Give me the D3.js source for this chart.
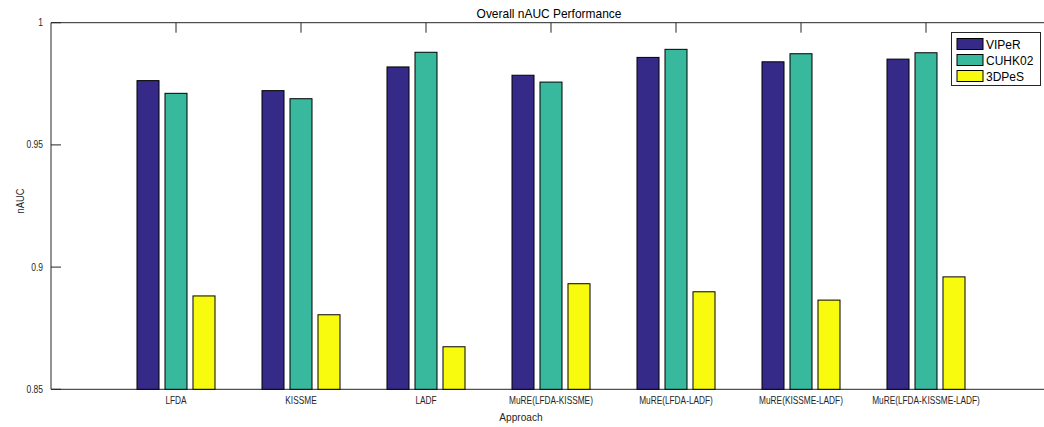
<!DOCTYPE html>
<html>
<head>
<meta charset="utf-8">
<script src="https://cdn.jsdelivr.net/npm/d3@7"></script>
<style>
  html, body { margin: 0; padding: 0; background: #fff; }
  svg { display: block; font-family: "Liberation Sans", Arial, Helvetica, sans-serif; }
</style>
</head>
<body>
<svg id="chart" width="1044" height="427"></svg>
<script>
// Approaches compared on the x axis
const approaches = [
  "LFDA", "KISSME", "LADF", "MuRE(LFDA-KISSME)",
  "MuRE(LFDA-LADF)", "MuRE(KISSME-LADF)", "MuRE(LFDA-KISSME-LADF)"
];
// Dataset series
const seriesNames = ["VIPeR", "CUHK02", "3DPeS"];
const viper  = [0.9763, 0.9722, 0.9819, 0.9785, 0.9858, 0.9840, 0.9851];
const cuhk02 = [0.9711, 0.9689, 0.9879, 0.9757, 0.9891, 0.9873, 0.9877];
const dpes   = [0.8882, 0.8805, 0.8674, 0.8932, 0.8899, 0.8865, 0.8960];
const seriesValues = [viper, cuhk02, dpes];
const colors = ["#352a87", "#38b99e", "#f9fb0e"];
// Y axis ticks
const yTicks = [0.85, 0.9, 0.95, 1];

const svg = d3.select("#chart");
const axisColor = "#262626";

const plotLeft = 51, plotRight = 1051, plotTop = 22.7, plotBottom = 389.3;

// Category positions 1..7 on a [0, 8] axis, like a MATLAB bar chart
const x = d3.scaleLinear().domain([0, approaches.length + 1]).range([plotLeft, plotRight]);
const y = d3.scaleLinear().domain([0.85, 1]).range([plotBottom, plotTop]);
const inner = d3.scaleBand().domain(seriesNames).range([-39, 39]).paddingInner(0.214).paddingOuter(0);

// Axis box lines
svg.append("line").attr("x1", plotLeft).attr("x2", plotRight).attr("y1", plotBottom).attr("y2", plotBottom)
  .attr("stroke", axisColor).attr("stroke-width", 1);
svg.append("line").attr("x1", plotLeft).attr("x2", plotRight).attr("y1", plotTop).attr("y2", plotTop)
  .attr("stroke", axisColor).attr("stroke-width", 1);
svg.append("line").attr("x1", plotLeft).attr("x2", plotLeft).attr("y1", plotTop).attr("y2", plotBottom)
  .attr("stroke", axisColor).attr("stroke-width", 1);

// Inward ticks on top and bottom at category centers
approaches.forEach((a, i) => {
  const cx = x(i + 1);
  svg.append("line").attr("x1", cx).attr("x2", cx).attr("y1", plotTop).attr("y2", plotTop + 10)
    .attr("stroke", axisColor);
  svg.append("line").attr("x1", cx).attr("x2", cx).attr("y1", plotBottom).attr("y2", plotBottom - 10)
    .attr("stroke", axisColor);
});

// Y ticks and labels
yTicks.forEach(t => {
  const ty = y(t);
  svg.append("line").attr("x1", plotLeft).attr("x2", plotLeft + 10).attr("y1", ty).attr("y2", ty)
    .attr("stroke", axisColor);
  svg.append("text")
    .attr("transform", `translate(43,${ty + 3.5}) scale(0.85,1)`)
    .attr("text-anchor", "end")
    .attr("font-size", 10)
    .attr("fill", axisColor)
    .text(String(t));
});

// Bars
seriesNames.forEach((s, si) => {
  svg.append("g").selectAll("rect")
    .data(seriesValues[si])
    .join("rect")
    .attr("x", (d, i) => x(i + 1) + inner(s))
    .attr("width", inner.bandwidth())
    .attr("y", d => y(d))
    .attr("height", d => y(0.85) - y(d))
    .attr("fill", colors[si])
    .attr("stroke", "#000")
    .attr("stroke-width", 1);
});

// X tick labels
approaches.forEach((a, i) => {
  svg.append("text")
    .attr("transform", `translate(${x(i + 1)},403.5) scale(0.83,1)`)
    .attr("text-anchor", "middle")
    .attr("font-size", 10)
    .attr("fill", axisColor)
    .text(a);
});

// Axis titles
svg.append("text")
  .attr("transform", "translate(521,420.5) scale(0.88,1)")
  .attr("text-anchor", "middle")
  .attr("font-size", 11.5)
  .attr("fill", axisColor)
  .text("Approach");

svg.append("text")
  .attr("transform", "translate(24,201) rotate(-90) scale(0.85,1)")
  .attr("text-anchor", "middle")
  .attr("font-size", 11)
  .attr("fill", axisColor)
  .text("nAUC");

svg.append("text")
  .attr("transform", "translate(549,17.5) scale(0.92,1)")
  .attr("text-anchor", "middle")
  .attr("font-size", 13)
  .attr("fill", "#000")
  .text("Overall nAUC Performance");

// Legend
const lg = svg.append("g").attr("transform", "translate(951.5,32.5)");
lg.append("rect").attr("width", 89).attr("height", 53)
  .attr("fill", "#fff").attr("stroke", axisColor).attr("stroke-width", 1);
seriesNames.forEach((s, si) => {
  const row = lg.append("g").attr("transform", `translate(5.5,${6 + si * 16})`);
  row.append("rect").attr("width", 26).attr("height", 11)
    .attr("fill", colors[si]).attr("stroke", "#000").attr("stroke-width", 1);
  row.append("text").attr("x", 29).attr("y", 10.5)
    .attr("font-size", 12).attr("fill", "#000").text(s);
});
</script>
</body>
</html>
